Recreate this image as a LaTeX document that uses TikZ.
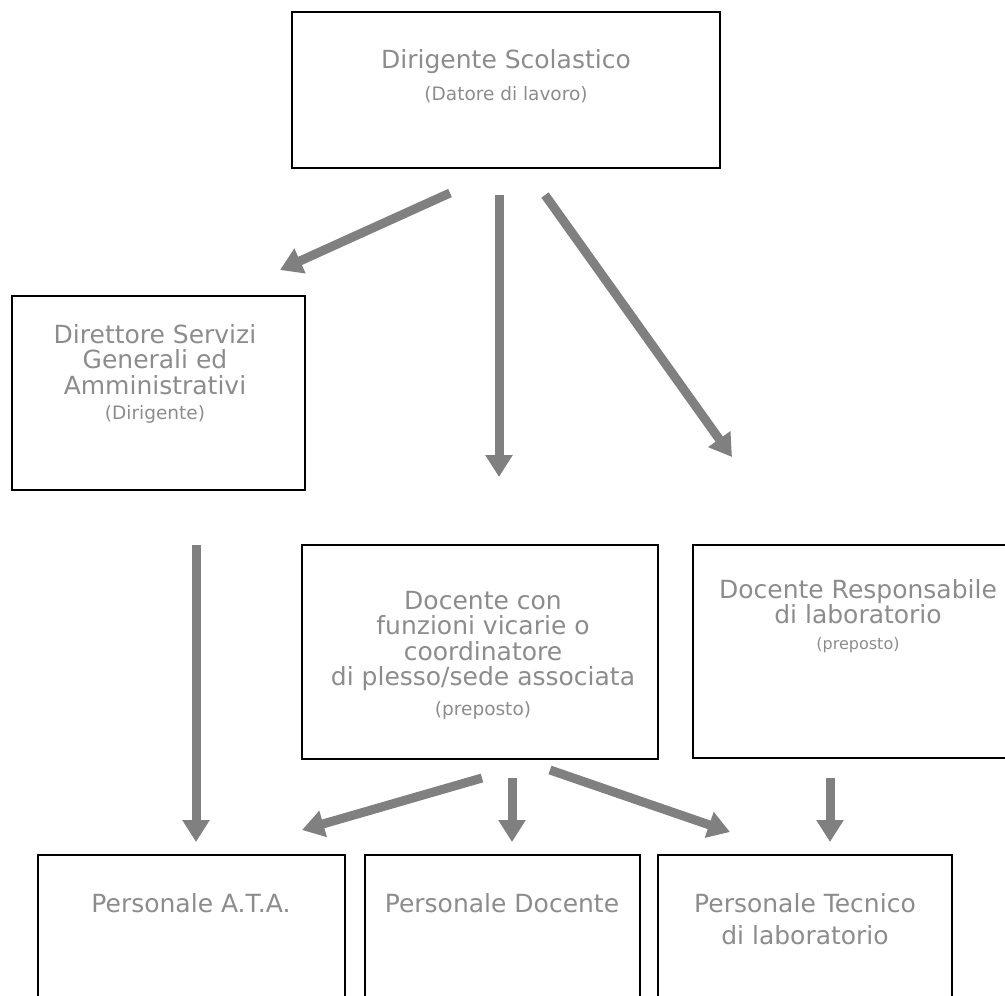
\documentclass[tikz,border=0pt]{standalone}
\usepackage{fontspec}
\setmainfont{DejaVu Sans}
\usetikzlibrary{arrows.meta}
\definecolor{txtgray}{gray}{0.55}
\definecolor{arrgray}{gray}{0.5}
\tikzset{
  box/.style={draw=black, line width=2.2pt, anchor=north west, inner sep=0pt, outer sep=0pt},
  lbl/.style={text=txtgray, align=center, font=\fontsize{25}{25.5}\selectfont, inner sep=0pt},
  conn/.style={draw=arrgray, line width=9pt, -{Triangle[width=26pt,length=22pt]}, arrgray},
}
\newcommand{\subt}[1]{{\fontsize{18.5}{20}\selectfont #1}}
\newcommand{\subsm}[1]{{\fontsize{16}{18}\selectfont #1}}
\begin{document}
\begin{tikzpicture}[x=1pt,y=-1pt]
\useasboundingbox (0,0) rectangle (1005,996);
\clip (0,0) rectangle (1005,996);
% boxes
\node[box, minimum width=428pt, minimum height=156pt] (ds) at (292,12) {};
\node[box, minimum width=293pt, minimum height=194pt] (dsga) at (12,296) {};
\node[box, minimum width=356pt, minimum height=214pt] (vic) at (302,545) {};
\node[box, minimum width=340pt, minimum height=213pt] (resp) at (693,545) {};
\node[box, minimum width=307pt, minimum height=170pt] (ata) at (38,855) {};
\node[box, minimum width=275pt, minimum height=170pt] (doc) at (365,855) {};
\node[box, minimum width=294pt, minimum height=170pt] (tec) at (658,855) {};
% texts
\node[lbl] (dst) at (506,76) {Dirigente Scolastico\\[6pt]\subt{(Datore di lavoro)}};
\node[lbl] (dsgat) at (155,374) {Direttore Servizi\\Generali ed\\Amministrativi\\\subt{(Dirigente)}};
\node[lbl] (vict) at (483,655) {Docente con\\funzioni vicarie o\\coordinatore\\di plesso/sede associata\\[4pt]\subt{(preposto)}};
\node[lbl] (respt) at (858,616) {Docente Responsabile\\di laboratorio\\\subsm{(preposto)}};
\node[lbl] (atat) at (191,903) {Personale A.T.A.};
\node[lbl] (doct) at (502,903) {Personale Docente};
\node[lbl] (tect) at (805,919) {Personale Tecnico\\[6pt]di laboratorio};
% connector end points
\coordinate (a1s) at (450,193); \coordinate (a1e) at (280,270);
\coordinate (a2s) at (499,195); \coordinate (a2e) at (499,477);
\coordinate (a3s) at (545,195); \coordinate (a3e) at (732,457);
\coordinate (a4s) at (196,545); \coordinate (a4e) at (196,842);
\coordinate (a5s) at (482,778); \coordinate (a5e) at (302,830);
\coordinate (a6s) at (512,778); \coordinate (a6e) at (512,842);
\coordinate (a7s) at (550,770); \coordinate (a7e) at (730,832);
\coordinate (a8s) at (830,778); \coordinate (a8e) at (830,842);
\draw[conn] (a1s) -- (a1e);
\draw[conn] (a2s) -- (a2e);
\draw[conn] (a3s) -- (a3e);
\draw[conn] (a4s) -- (a4e);
\draw[conn] (a5s) -- (a5e);
\draw[conn] (a6s) -- (a6e);
\draw[conn] (a7s) -- (a7e);
\draw[conn] (a8s) -- (a8e);
\end{tikzpicture}
\end{document}
